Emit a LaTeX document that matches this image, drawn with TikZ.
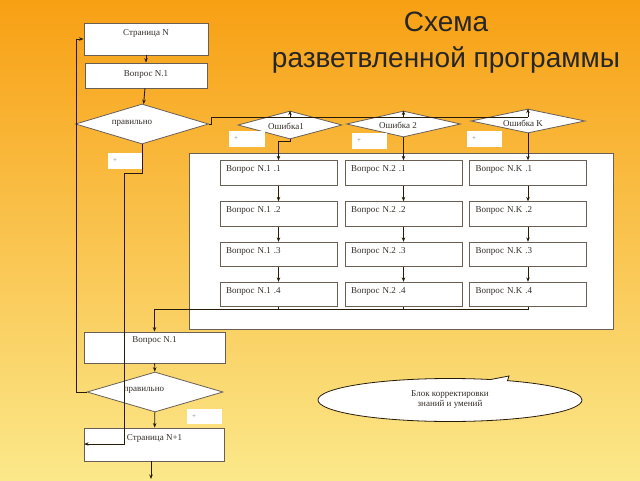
\documentclass[tikz,border=0pt]{standalone}
\usepackage{fontspec}
\setmainfont{Liberation Serif}
\newfontfamily\titlefont{Liberation Sans}
\usetikzlibrary{shapes.geometric,shapes.callouts,arrows.meta}
\definecolor{bgtop}{RGB}{248,160,20}
\definecolor{bgmid}{RGB}{250,198,62}
\definecolor{bgbot}{RGB}{251,232,138}
\definecolor{linec}{RGB}{40,28,8}
\definecolor{boxc}{RGB}{105,95,85}
\definecolor{txtc}{RGB}{50,45,40}
\begin{document}
\begin{tikzpicture}[x=1pt,y=-1pt,
  every node/.style={font=\fontsize{9}{10}\selectfont, text=txtc},
  topbox/.style={draw=boxc, fill=white, line width=0.8pt, inner xsep=0pt, inner ysep=0pt},
  colbox/.style={draw=boxc, fill=white, line width=0.8pt, inner xsep=6pt, inner ysep=0pt,
    text width=105pt, align=left, text height=11pt, text depth=13.5pt},
  dia/.style={diamond, draw=boxc, fill=white, line width=0.8pt, inner sep=0pt},
  plustag/.style={fill=white, inner xsep=5pt, inner ysep=0pt, text width=24pt, align=left,
    minimum height=16pt, font=\fontsize{7}{8}\selectfont, text=gray},
  panelbox/.style={draw=boxc, fill=white, line width=0.8pt, inner sep=0pt},
  conn/.style={draw=linec, line width=0.9pt},
  arr/.style={conn, -{Stealth[length=4.5pt,width=3.5pt]}}
]
\useasboundingbox (0,0) rectangle (640,480);
\fill[top color=bgtop, middle color=bgmid, bottom color=bgbot] (0,0) rectangle (640,480);

% title
\node[font=\titlefont\fontsize{28}{36}\selectfont, text=black!85, align=center] (title) at (446,43) {Схема\\разветвленной программы};

% panel
\node[panelbox, minimum width=424pt, minimum height=176pt] (panel) at (401,241) {};

% upper left
\node[topbox, minimum width=124pt, text height=12pt, text depth=20pt] (sN) at (146,39) {Страница N};
\node[topbox, minimum width=122pt, text height=13pt, text depth=12pt] (q1) at (146,75.5) {Вопрос N.1};
\node[dia, minimum width=133pt, minimum height=40pt] (d1) at (142,124) {};
\node (d1t) at (132,123) {правильно};

% error diamonds
\node[dia, minimum width=104pt, minimum height=28pt] (e1) at (290,125) {};
\node (e1t) at (286,126) {Ошибка1};
\node[dia, minimum width=114pt, minimum height=26pt] (e2) at (403.5,124) {};
\node (e2t) at (398,125) {Ошибка 2};
\node[dia, minimum width=114pt, minimum height=24pt] (eK) at (528,121) {};
\node (eKt) at (523,123) {Ошибка K};

% plus tags
\node[plustag] (pA) at (125,161) {+};
\node[plustag, text width=26pt] (pB) at (247,139) {+};
\node[plustag, text width=25pt] (pC) at (369.5,141) {+};
\node[plustag, text width=25pt] (pD) at (484.5,139) {+};
\node[plustag, text width=25pt, minimum height=15pt] (pE) at (204.5,416.5) {+};

% question columns
\foreach \c/\x/\k in {A/278.5/1,B/403.5/2,C/528/K}{
  \foreach \r/\y in {1/173,2/214,3/254.5,4/294.5}{
    \node[colbox] (c\c\r) at (\x,\y) {Вопрос N.\k\ .\r};
  }
}

% lower left
\node[topbox, minimum width=141pt, text height=10pt, text depth=21pt] (q2) at (154.5,347.5) {Вопрос N.1};
\node[dia, minimum width=136pt, minimum height=40pt] (d2) at (155,392) {};
\node (d2t) at (144,390) {правильно};
\node[topbox, minimum width=140pt, text height=12pt, text depth=21pt] (sN1) at (154.5,444.5) {Страница N+1};

% callout
\coordinate (ptr) at (509,376);
\node[ellipse callout, draw=linec, fill=white, line width=0.8pt, minimum width=264pt,
  minimum height=43pt, inner sep=0pt, align=center, callout pointer arc=8,
  callout absolute pointer={(ptr)}] (blk) at (450,400) {Блок корректировки\\знаний и умений};

% connectors
\draw[arr] (sN) -- (q1);
\draw[arr] (q1) -- (d1);

\coordinate (w1) at (124,173);
\coordinate (w2) at (124,444);
\draw[arr] (d1.south) |- (w1) -- (w2) -- (sN1.west |- w2);

\coordinate (l1) at (76,392);
\draw[arr] (d2.west) -- (l1) -- (l1 |- sN.west) -- (sN.west);

\coordinate (j0) at (211,117);
\draw[conn] (d1.east) -| (j0) -- (j0 -| eK.north);
\draw[arr] (j0 -| e1.north) -- (e1.north);
\draw[arr] (j0 -| e2.north) -- (e2.north);
\draw[arr] (j0 -| eK.north) -- (eK.north);

\coordinate (k1) at (278.5,141);
\draw[arr] (e1.south) |- (k1) -- (cA1.north);
\draw[arr] (e2.south) -- (cB1.north);
\draw[arr] (eK.south) -- (cC1.north);

\foreach \c in {A,B,C}{
  \draw[arr] (c\c1) -- (c\c2);
  \draw[arr] (c\c2) -- (c\c3);
  \draw[arr] (c\c3) -- (c\c4);
}

\coordinate (h) at (154.5,309);
\draw[conn] (cA4.south) -- (cA4.south |- h);
\draw[conn] (cB4.south) -- (cB4.south |- h);
\draw[arr] (cC4.south) -- (cC4.south |- h) -- (h) -- (q2.north);

\draw[arr] (q2) -- (d2);
\draw[arr] (d2) -- (sN1);
\coordinate (endp) at (151,479);
\draw[arr] (sN1.south -| endp) -- (endp);
\end{tikzpicture}
\end{document}
